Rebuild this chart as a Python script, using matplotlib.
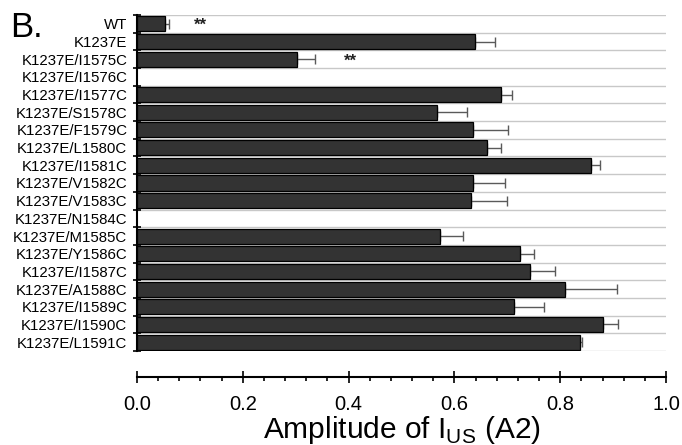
import numpy as np
import matplotlib.pyplot as plt
from matplotlib.ticker import MultipleLocator

plt.rcParams['font.family'] = ['Liberation Sans', 'DejaVu Sans']
plt.rcParams['mathtext.fontset'] = 'custom'
plt.rcParams['mathtext.rm'] = 'Liberation Sans'

mutants = ["WT", "K1237E", "K1237E/I1575C", "K1237E/I1576C", "K1237E/I1577C",
           "K1237E/S1578C", "K1237E/F1579C", "K1237E/L1580C", "K1237E/I1581C",
           "K1237E/V1582C", "K1237E/V1583C", "K1237E/N1584C", "K1237E/M1585C",
           "K1237E/Y1586C", "K1237E/I1587C", "K1237E/A1588C", "K1237E/I1589C",
           "K1237E/I1590C", "K1237E/L1591C"]
amplitude = [0.053, 0.639, 0.302, np.nan, 0.688, 0.567, 0.636, 0.662, 0.858,
             0.636, 0.631, np.nan, 0.573, 0.724, 0.743, 0.809, 0.713, 0.880, 0.837]
sem = [0.008, 0.038, 0.034, np.nan, 0.020, 0.057, 0.066, 0.027, 0.018,
       0.060, 0.069, np.nan, 0.044, 0.027, 0.048, 0.099, 0.056, 0.030, 0.005]
signif = {"WT": 0.119, "K1237E/I1575C": 0.403}  # "**" x positions

amplitude = np.array(amplitude)
sem = np.array(sem)
y = np.arange(len(mutants))
ok = ~np.isnan(amplitude)

fig = plt.figure(figsize=(6.82, 4.45), dpi=100)
ax = fig.add_axes([137/682, 94/445, 529/682, 336/445])

ax.barh(y[ok], amplitude[ok], height=0.85, color='#333333', edgecolor='black',
        linewidth=0.9, zorder=3)
ax.errorbar(amplitude[ok], y[ok], xerr=[np.zeros(ok.sum()), sem[ok]], fmt='none',
            ecolor='#5a5a5a', elinewidth=1, capsize=3.5, capthick=1, zorder=2)

for name, xpos in signif.items():
    ax.text(xpos, mutants.index(name) + 0.1, "**", ha='center', va='center',
            fontsize=12, fontweight='bold', color='#222222')

ax.set_xlim(0, 1.0)
ax.set_ylim(len(mutants) - 0.5, -0.5)

ax.set_yticks(y)
ax.set_yticklabels(mutants, fontsize=10.8)
ax.set_yticks(np.arange(-0.5, len(mutants)), minor=True)
ax.tick_params(axis='y', which='major', length=0, pad=7)
ax.tick_params(axis='y', which='minor', direction='inout', length=6, width=1.2)
ax.grid(axis='y', which='minor', color='#c8c8c8', linewidth=1, zorder=0)

ax.xaxis.set_major_locator(MultipleLocator(0.2))
ax.xaxis.set_minor_locator(MultipleLocator(0.04))
ax.tick_params(axis='x', which='major', direction='inout', length=9, width=1.2,
               labelsize=14.5, pad=8)
ax.tick_params(axis='x', which='minor', direction='out', length=3, width=1.2)
ax.set_xticks([0.0, 0.2, 0.4, 0.6, 0.8, 1.0])
ax.set_xticklabels(["0.0", "0.2", "0.4", "0.6", "0.8", "1.0"])
ax.set_xlabel(r"Amplitude of I$_{\mathrm{US}}$ (A2)", fontsize=21.5, labelpad=0)

ax.spines['top'].set_visible(False)
ax.spines['right'].set_visible(False)
ax.spines['bottom'].set_position(('outward', 19))
ax.spines['bottom'].set_linewidth(1.5)
ax.spines['left'].set_linewidth(1.5)

fig.text(10/682, 1 - 37/445, "B.", fontsize=25, ha='left', va='baseline')

fig.savefig("out.png", dpi=100)
